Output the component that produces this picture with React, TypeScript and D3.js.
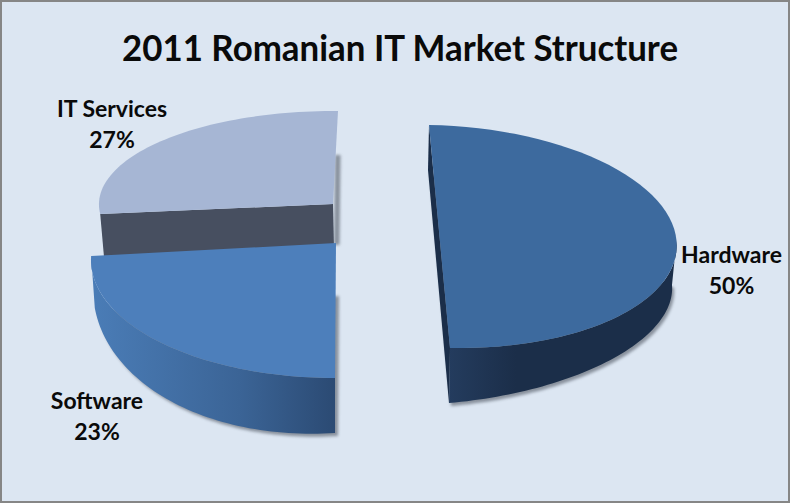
import React from "react";
import * as d3 from "d3";

const categories = ["Hardware", "Software", "IT Services"];
const shares = [50, 23, 27];
const titleText = "2011 Romanian IT Market Structure";

type Pt = [number, number];
interface Face { c: Pt; u: Pt; v: Pt }
interface Geo { apexTop: Pt; top: Face; bottom: Face; apexBottom: Pt; warp: number; fill: string; lx: number; ly: number }

const geos: Geo[] = [
  {
    apexTop: [439.5, 236.5],
    top: { c: [439.5, 236.5], u: [237, 4], v: [10.5, 111.5] },
    bottom: { c: [441, 305], u: [231, -20], v: [8, 98] },
    apexBottom: [428, 170],
    warp: 1,
    fill: "#3d6a9e", lx: 731.5, ly: 263,
  },
  {
    apexTop: [336, 243],
    top: { c: [335, 260], u: [244, 0], v: [0, 118] },
    bottom: { c: [336, 272.4], u: [243, -15.6], v: [-1, 160.6] },
    apexBottom: [336, 293],
    warp: 1.11,
    fill: "#4d7fbb", lx: 97, ly: 409,
  },
  {
    apexTop: [333, 204],
    top: { c: [333, 204], u: [234, 1.6], v: [-5, 93] },
    bottom: { c: [334, 245], u: [231, 1.6], v: [-5, 95] },
    apexBottom: [335, 155],
    warp: 1,
    fill: "#a6b6d4", lx: 112, ly: 117,
  },
];

const pie = d3.pie<number>().sort(null).startAngle(0).endAngle(2 * Math.PI);
const arcs = pie(shares);

const at = (f: Face, a: number): Pt => [
  f.c[0] + Math.sin(a) * f.u[0] - Math.cos(a) * f.v[0],
  f.c[1] + Math.sin(a) * f.u[1] - Math.cos(a) * f.v[1],
];
const line = d3.line<Pt>();
const sweep = (f: Face, a0: number, a1: number): Pt[] =>
  d3.range(0, 61).map((i) => at(f, d3.scaleLinear().domain([0, 60]).range([a0, a1])(i)));

export default function App() {
  const [hw, sw, it] = arcs;
  const gh = geos[0], gs = geos[1], gi = geos[2];
  const swTopEnd = sw.startAngle + (sw.endAngle - sw.startAngle) * gs.warp;

  const hwWall = [...sweep(gh.top, Math.PI * 0.5, hw.endAngle), ...sweep(gh.bottom, hw.endAngle, Math.PI * 0.5)];
  const swWall = [...sweep(gs.top, sw.startAngle, swTopEnd), ...sweep(gs.bottom, sw.endAngle, sw.startAngle)];
  const hwCut: Pt[] = [at(gh.top, 0), gh.apexBottom, at(gh.bottom, Math.PI), at(gh.top, Math.PI)];
  const itLeft = at(gi.top, it.startAngle);
  const itLow = at(gi.bottom, it.startAngle);
  const itCut: Pt[] = [gi.apexTop, itLeft, [itLow[0], itLow[1] + 4], [gi.bottom.c[0], gi.bottom.c[1] + 4]];

  const hwTop = [gh.apexTop, ...sweep(gh.top, hw.startAngle, hw.endAngle)];
  const swTop = [gs.apexTop, ...sweep(gs.top, sw.startAngle, swTopEnd)];
  const itTop = [gi.apexTop, ...sweep(gi.top, it.startAngle, it.endAngle)];

  const hwShadow = [gh.apexBottom, ...sweep(gh.bottom, Math.PI * 0.5, hw.endAngle)];
  const swShadow = [gs.apexBottom, ...sweep(gs.bottom, sw.startAngle, sw.endAngle)];
  const itShadow: Pt[] = [gi.apexBottom, [gi.apexBottom[0] + 5.5, gi.apexBottom[1]], [gi.bottom.c[0] + 5.5, gi.bottom.c[1]], gi.bottom.c];

  const label = (i: number) => (
    <text key={categories[i]} textAnchor="middle" fontFamily="Lato, 'Open Sans', sans-serif" fontWeight={700} fontSize={23} fill="#0a0a0a">
      <tspan x={geos[i].lx} y={geos[i].ly}>{categories[i]}</tspan>
      <tspan x={geos[i].lx} dy={30.5}>{shares[i]}%</tspan>
    </text>
  );

  return (
    <svg width={792} height={504} style={{ position: "fixed", left: 0, top: 0 }}>
      <defs>
        <filter id="blur" filterUnits="userSpaceOnUse" x={0} y={0} width={792} height={504}>
          <feGaussianBlur stdDeviation={1.5} />
        </filter>
        <linearGradient id="swSide" gradientUnits="userSpaceOnUse" x1={95} x2={336} y1={0} y2={0}>
          <stop offset="0" stopColor="#4a7cb6" />
          <stop offset="0.6" stopColor="#3b6496" />
          <stop offset="1" stopColor="#2b4a73" />
        </linearGradient>
        <linearGradient id="hwSide" gradientUnits="userSpaceOnUse" x1={449} x2={672} y1={0} y2={0}>
          <stop offset="0" stopColor="#243c5e" />
          <stop offset="0.3" stopColor="#1b2e49" />
          <stop offset="1" stopColor="#1b2e49" />
        </linearGradient>
      </defs>
      <rect x={1} y={1} width={788} height={501} fill="#dce6f2" stroke="#868686" strokeWidth={2} />

      <text x={400} y={61} textAnchor="middle" textLength={556} lengthAdjust="spacingAndGlyphs" fontFamily="Lato, 'Open Sans', sans-serif" fontWeight={700} fontSize={37} fill="#0a0a0a">
        {titleText}
      </text>

      {/* IT Services */}
      <path d={line(itShadow) + "Z"} fill="#6d7480" opacity={0.75} filter="url(#blur)" />
      <path d={line(itCut) + "Z"} fill="#474f60" />
      <path d={line(itTop) + "Z"} fill={gi.fill} />

      {/* Software */}
      <path d={line(swShadow) + "Z"} transform="translate(3,3)" fill="#6d7480" opacity={0.75} filter="url(#blur)" />
      <path d={line(swWall) + "Z"} fill="url(#swSide)" />
      <path d={line(swTop) + "Z"} fill={gs.fill} />

      {/* Hardware */}
      <path d={line(hwShadow) + "Z"} transform="translate(2,3)" fill="#6d7480" opacity={0.75} filter="url(#blur)" />
      <path d={line(hwCut) + "Z"} fill="#1b2e49" />
      <path d={line(hwWall) + "Z"} fill="url(#hwSide)" />
      <path d={line(hwTop) + "Z"} fill={gh.fill} />

      {[0, 1, 2].map(label)}
    </svg>
  );
}
